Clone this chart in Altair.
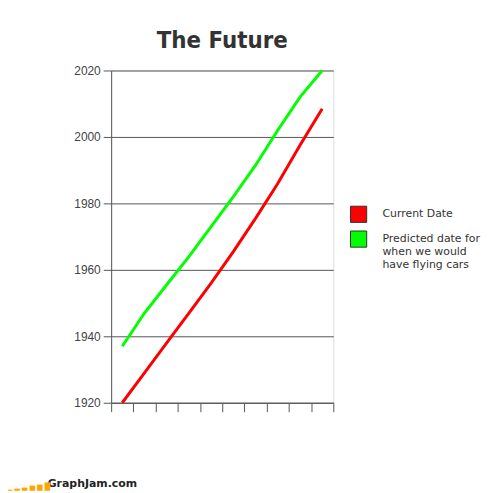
import altair as alt
import pandas as pd

# ---- data ----
idx = [1, 2, 3, 4, 5, 6, 7, 8, 9, 10]
current_date = [1920, 1929, 1938, 1947, 1956, 1965.5, 1975.5, 1986, 1997.5, 2008.5]
predicted = [1937, 1947, 1955.5, 1964, 1973, 1982, 1991.5, 2002, 2012, 2020]
series = ["Current Date", "Predicted date for|when we would|have flying cars"]
colors = ["#ff0000", "#00ff00"]
y_ticks = [1920, 1940, 1960, 1980, 2000, 2020]
x_ticks = [0, 1, 2, 3, 4, 5, 6, 7, 8, 9, 10]
title_text = "The Future"
footer_text = "GraphJam.com"
footer_bars = "▁ ▂ ▃ ▅ ▆ █"

rows = []
for i, c, p in zip(idx, current_date, predicted):
    rows.append({"i": i, "year": c, "series": series[0]})
    rows.append({"i": i, "year": p, "series": series[1]})
df = pd.DataFrame(rows)

GRID = "#555555"

x_enc = alt.X(
    "pos:Q",
    scale=alt.Scale(domain=[0, 10], nice=False, zero=False),
    axis=alt.Axis(values=x_ticks, labels=False, title=None, tickSize=9,
                  grid=False, domainColor=GRID, tickColor=GRID),
)
y_enc = alt.Y(
    "year:Q",
    scale=alt.Scale(domain=[1920, 2020], nice=False, zero=False),
    axis=alt.Axis(values=y_ticks, title=None, format="d", tickSize=8,
                  labelFontSize=12, labelColor="#444444",
                  labelFont="Liberation Sans", labelPadding=3,
                  gridColor=GRID, domainColor=GRID, tickColor=GRID),
)

base = alt.Chart(df).transform_calculate(pos="datum.i - 0.5")

# stroke scale is data-driven (sorted: Current, Predicted) so it is not merged with the legend scale
lines = base.mark_line(strokeWidth=3).encode(
    x=x_enc,
    y=y_enc,
    stroke=alt.Stroke("series:N", scale=alt.Scale(range=colors), legend=None),
    detail="series:N",
)

legend_layer = base.mark_square(size=10, opacity=0).encode(
    x=x_enc,
    y=y_enc,
    color=alt.Color(
        "series:N",
        scale=alt.Scale(domain=series, range=colors),
        legend=alt.Legend(
            orient="none", legendX=240.5, legendY=136, title=None,
            symbolType="square", symbolSize=266,
            symbolStrokeColor="#333333", symbolStrokeWidth=1,
            symbolOpacity=1,
            labelFont="DejaVu Sans", labelFontSize=11, labelColor="#333333",
            labelOffset=15, rowPadding=3, padding=0, labelLimit=0,
            labelExpr="split(datum.label, '|')",
        ),
    ),
)

foot = pd.DataFrame({"t": [footer_text], "b": [footer_bars]})
footer = alt.Chart(foot).mark_text(
    align="left", baseline="alphabetic", font="DejaVu Sans", fontSize=11,
    fontWeight="bold", color="#222222",
).encode(text="t:N", x=alt.value(-64), y=alt.value(420))
footer_logo = alt.Chart(foot).mark_text(
    align="left", baseline="alphabetic", font="DejaVu Sans", fontSize=7,
    color="#ffa500",
).encode(text="b:N", x=alt.value(-105), y=alt.value(422))

chart = alt.layer(lines, legend_layer, footer, footer_logo).properties(
    width=224,
    height=335,
    title=alt.Title(
        title_text,
        font="Impact, 'Liberation Sans Narrow', 'DejaVu Sans Condensed', sans-serif",
        fontSize=24, fontWeight="bold", color="#333333", anchor="middle", offset=12,
    ),
    autosize=alt.AutoSizeParams(type="none"),
    padding={"left": 104, "top": 61, "right": 160, "bottom": 89},
).configure_view(
    stroke=GRID, fill="#eeeeee"
).configure(background="#ffffff")

chart.save("out.html", embed_options={"renderer": "svg", "actions": False})
